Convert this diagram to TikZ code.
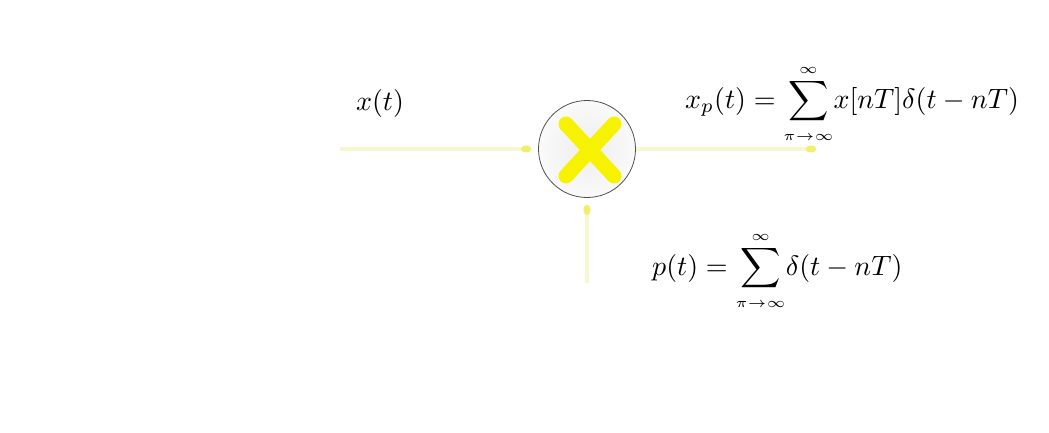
\documentclass[tikz,border=0pt]{standalone}
\usepackage{amsmath}
\usepackage{graphicx}
\usetikzlibrary{arrows.meta}
\definecolor{wire}{HTML}{F6F8CF}
\definecolor{tipc}{HTML}{F0EE6A}
\definecolor{xcol}{HTML}{F7F200}
\definecolor{ring}{HTML}{505050}
\newcommand{\bigtxt}[1]{\scalebox{2.8}{#1}}
\tikzset{
  wirestyle/.style={draw=wire, line width=3.5pt, shorten >=7pt, -{Circle[length=10pt,width=7pt,fill=tipc,color=tipc]}},
  lbl/.style={inner sep=0pt},
}
\begin{document}
\begin{tikzpicture}[x=1pt,y=-1pt]
\useasboundingbox (0,0) rectangle (1049,432);
\node[circle, minimum size=97pt, draw=ring, line width=0.8pt, inner color=gray!14, outer color=gray!4] (mul) at (587,149) {};
\draw[xcol, line width=15pt, line cap=round] (566,124) -- (614,176) (614,124) -- (566,176);
\coordinate (in) at (340,149);
\coordinate (out) at (816,149);
\coordinate (bot) at (587,283);
\draw[wirestyle] (in) -- (mul.west);
\draw[wirestyle, shorten >=0pt] (mul.east) -- (out);
\draw[wirestyle] (bot) -- (mul.south);
\node[lbl] (xt) at (380,103) {\bigtxt{$x(t)$}};
\node[lbl, anchor=base west] (xp) at (685,108) {\bigtxt{$x_{p}(t)=\displaystyle\sum_{\scriptscriptstyle\pi\to\infty}^{\scriptscriptstyle\infty}\!x[nT]\delta(t-nT)$}};
\node[lbl, anchor=base west] (pt) at (652,275) {\bigtxt{$p(t)=\displaystyle\sum_{\scriptscriptstyle\pi\to\infty}^{\scriptscriptstyle\infty}\!\delta(t-nT)$}};
\end{tikzpicture}
\end{document}
